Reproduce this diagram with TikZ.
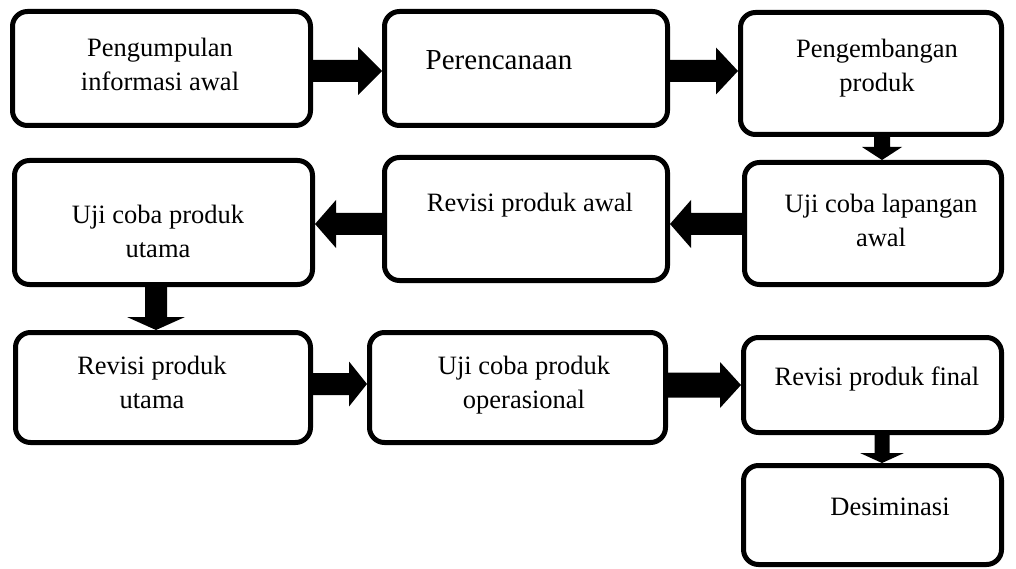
\documentclass[tikz,border=0pt]{standalone}
\usepackage{fontspec}
\setmainfont{Liberation Serif}
\usetikzlibrary{calc}
\tikzset{
  box/.style={draw=black, line width=5pt, rounded corners=15pt, fill=white, inner sep=0pt},
  txt/.style={font=\fontsize{26.5}{34}\selectfont, align=center, anchor=base, inner sep=0pt},
}
% horizontal block arrow: from #1 (its y is used) to tip x of #2; #3 half shaft, #4 half head, #5 signed head length
\newcommand\harr[5]{\fill let \p1=(#1),\p2=(#2) in
  ({\x1},{\y1+#3}) -- ({\x2-(#5)},{\y1+#3}) -- ({\x2-(#5)},{\y1+#4}) -- ({\x2},{\y1}) --
  ({\x2-(#5)},{\y1-#4}) -- ({\x2-(#5)},{\y1-#3}) -- ({\x1},{\y1-#3}) -- cycle;}
% vertical block arrow: from #1 (its x is used) to tip y of #2
\newcommand\varr[5]{\fill let \p1=(#1),\p2=(#2) in
  ({\x1+#3},{\y1}) -- ({\x1+#3},{\y2-(#5)}) -- ({\x1+#4},{\y2-(#5)}) -- ({\x1},{\y2}) --
  ({\x1-#4},{\y2-(#5)}) -- ({\x1-#3},{\y2-(#5)}) -- ({\x1-#3},{\y1}) -- cycle;}
\begin{document}
\begin{tikzpicture}[x=1pt,y=-1pt]
\useasboundingbox (0,0) rectangle (1016,569);
% boxes
\node[box, minimum width=298pt, minimum height=114pt] (b1) at (161.5,68.5) {};
\node[box, minimum width=283pt, minimum height=114pt] (b2) at (526,68.5) {};
\node[box, minimum width=261pt, minimum height=122pt] (b3) at (871,73.5) {};
\node[box, minimum width=257pt, minimum height=122pt] (b4) at (873,223.5) {};
\node[box, minimum width=283pt, minimum height=123pt] (b5) at (526,219) {};
\node[box, minimum width=298pt, minimum height=124pt] (b6) at (163.5,222.5) {};
\node[box, minimum width=295pt, minimum height=110pt] (b7) at (163,387.5) {};
\node[box, minimum width=296pt, minimum height=110pt] (b8) at (517.5,387.5) {};
\node[box, minimum width=258pt, minimum height=95pt] (b9) at (872.5,385) {};
\node[box, minimum width=258pt, minimum height=99pt] (b10) at (872.5,515) {};
% texts (anchor base = baseline of the last line)
\node[txt] (t1) at (160,91) {Pengumpulan\\informasi awal};
\node[txt, font=\fontsize{29}{34}\selectfont] (t2) at (499,70) {Perencanaan};
\node[txt] (t3) at (877,92) {Pengembangan\\produk};
\node[txt] (t4) at (881,247) {Uji coba lapangan\\awal};
\node[txt] (t5) at (530,212) {Revisi produk awal};
\node[txt] (t6) at (158,257) {Uji coba produk\\utama};
\node[txt] (t7) at (152,408) {Revisi produk\\utama};
\node[txt] (t8) at (524,408) {Uji coba produk\\operasional};
\node[txt] (t9) at (877,385) {Revisi produk final};
\node[txt] (t10) at (890,515) {Desiminasi};
% arrows
\harr{$(b1.east)+(0,2.5)$}{b2.west}{11}{24}{24}
\harr{$(b2.east)+(0,2.5)$}{b3.west}{11}{23.5}{22}
\varr{$(b3.south)+(11,0)$}{b4.north}{8}{20}{-13}
\harr{$(b4.west)+(0,0.5)$}{b5.east}{11}{24}{-21}
\harr{$(b5.west)+(0,5)$}{b6.east}{11}{24}{-21}
\varr{$(b6.south)+(-7.5,0)$}{b7.north}{11}{29}{-13}
\harr{$(b7.east)+(0,-3.5)$}{b8.west}{11}{22.5}{18}
\harr{$(b8.east)+(0,-2.5)$}{b9.west}{12.5}{23}{21}
\varr{$(b9.south)+(9.5,0)$}{b10.north}{7.5}{22}{-10}
\end{tikzpicture}
\end{document}
